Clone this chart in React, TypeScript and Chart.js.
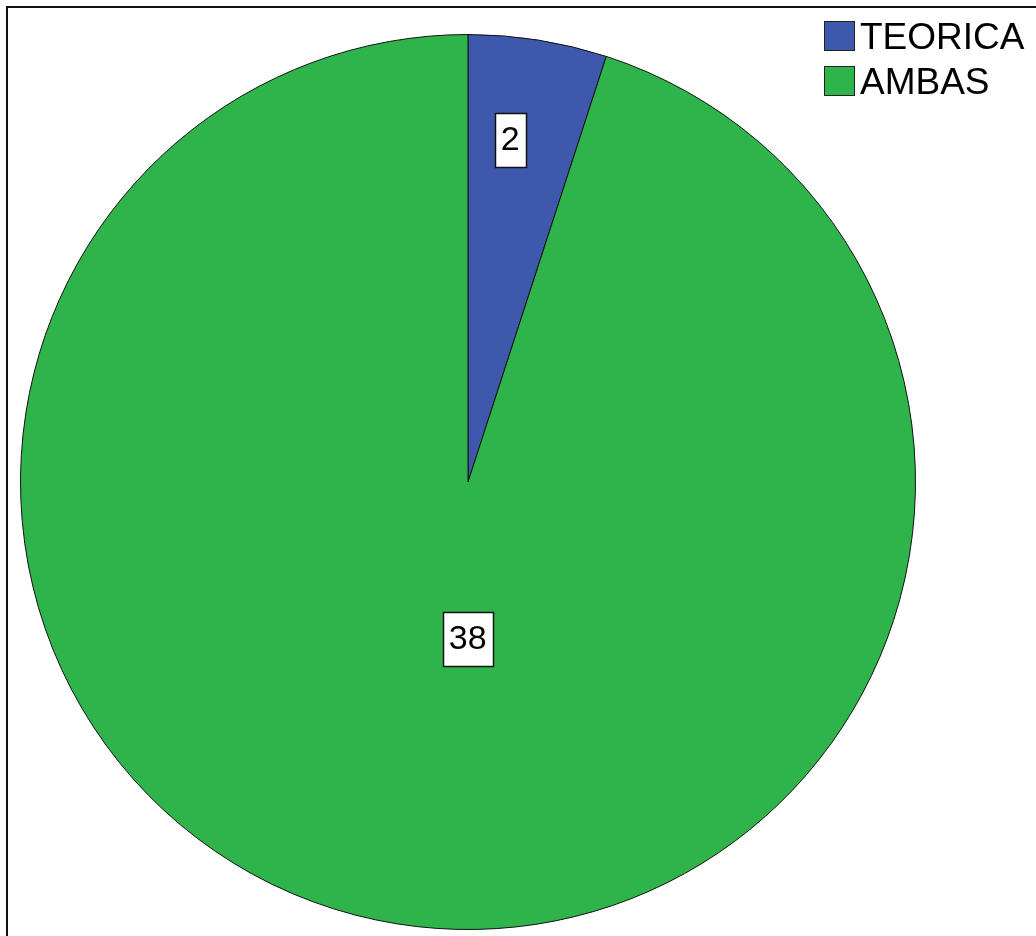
import React, { useEffect, useRef } from "react";
import { Chart, registerables } from "chart.js";

Chart.register(...registerables);

const categories = ["TEORICA", "AMBAS"];
const counts = [2, 38];
const sliceColors = ["#3E58AC", "#2EB44A"];

const FONT = '"Liberation Sans", Arial, sans-serif';

const labelPlugin = {
  id: "boxLabels",
  afterDatasetsDraw(chart: any) {
    const ctx = chart.ctx;
    const meta = chart.getDatasetMeta(0);
    const ds = chart.data.datasets[0];
    // placement along radius and within the angular span of each slice
    const radial = [0.77, 0.35];
    const angular = [0.39, 0.474];
    ctx.save();
    ctx.font = `34px ${FONT}`;
    ctx.textAlign = "center";
    ctx.textBaseline = "middle";
    meta.data.forEach((arc: any, i: number) => {
      const p = arc.getProps(["x", "y", "startAngle", "endAngle", "outerRadius"], true);
      const a = p.startAngle + (p.endAngle - p.startAngle) * angular[i];
      const r = p.outerRadius * radial[i];
      const cx = p.x + Math.cos(a) * r;
      const cy = p.y + Math.sin(a) * r;
      const txt = String(ds.data[i]);
      const w = ctx.measureText(txt).width + 12;
      const h = 54;
      ctx.fillStyle = "#ffffff";
      ctx.fillRect(Math.round(cx - w / 2) + 0.5, Math.round(cy - h / 2) + 0.5, Math.round(w), h);
      ctx.strokeStyle = "#111111";
      ctx.lineWidth = 1.5;
      ctx.strokeRect(Math.round(cx - w / 2) + 0.5, Math.round(cy - h / 2) + 0.5, Math.round(w), h);
      ctx.fillStyle = "#000000";
      ctx.fillText(txt, cx, cy + 1);
    });
    ctx.restore();
  },
  afterDraw(chart: any) {
    const ctx = chart.ctx;
    const ds = chart.data.datasets[0];
    ctx.save();
    ctx.font = `37px ${FONT}`;
    ctx.textAlign = "left";
    ctx.textBaseline = "middle";
    chart.data.labels.forEach((lab: string, i: number) => {
      const y = 21 + i * 45;
      ctx.fillStyle = ds.backgroundColor[i];
      ctx.fillRect(824, y, 31, 30);
      ctx.strokeStyle = "#222222";
      ctx.lineWidth = 1;
      ctx.strokeRect(824.5, y + 0.5, 30, 29);
      ctx.fillStyle = "#000000";
      ctx.fillText(lab, 860, y + 18);
    });
    ctx.restore();
  },
};

export default function App() {
  const ref = useRef<HTMLCanvasElement | null>(null);
  useEffect(() => {
    if (!ref.current) return;
    const chart = new Chart(ref.current, {
      type: "pie",
      data: {
        labels: categories,
        datasets: [
          {
            data: counts,
            backgroundColor: sliceColors,
            borderColor: "#111111",
            borderWidth: 1,
          },
        ],
      },
      options: {
        responsive: false,
        animation: false,
        layout: { padding: { left: 20, right: 120, top: 34, bottom: 6 } },
        plugins: {
          legend: { display: false },
          tooltip: { enabled: false },
          title: { display: false },
        },
      },
      plugins: [labelPlugin],
    });
    return () => chart.destroy();
  }, []);
  return (
    <div style={{ position: "fixed", left: 0, top: 0, width: 1036, height: 936, background: "#fff", overflow: "hidden" }}>
      <div
        style={{
          position: "absolute",
          left: 6,
          top: 6,
          width: 1100,
          height: 1000,
          borderLeft: "2px solid #111",
          borderTop: "2px solid #111",
        }}
      />
      <canvas ref={ref} width={1036} height={936} style={{ position: "absolute", left: 0, top: 0 }} />
    </div>
  );
}
